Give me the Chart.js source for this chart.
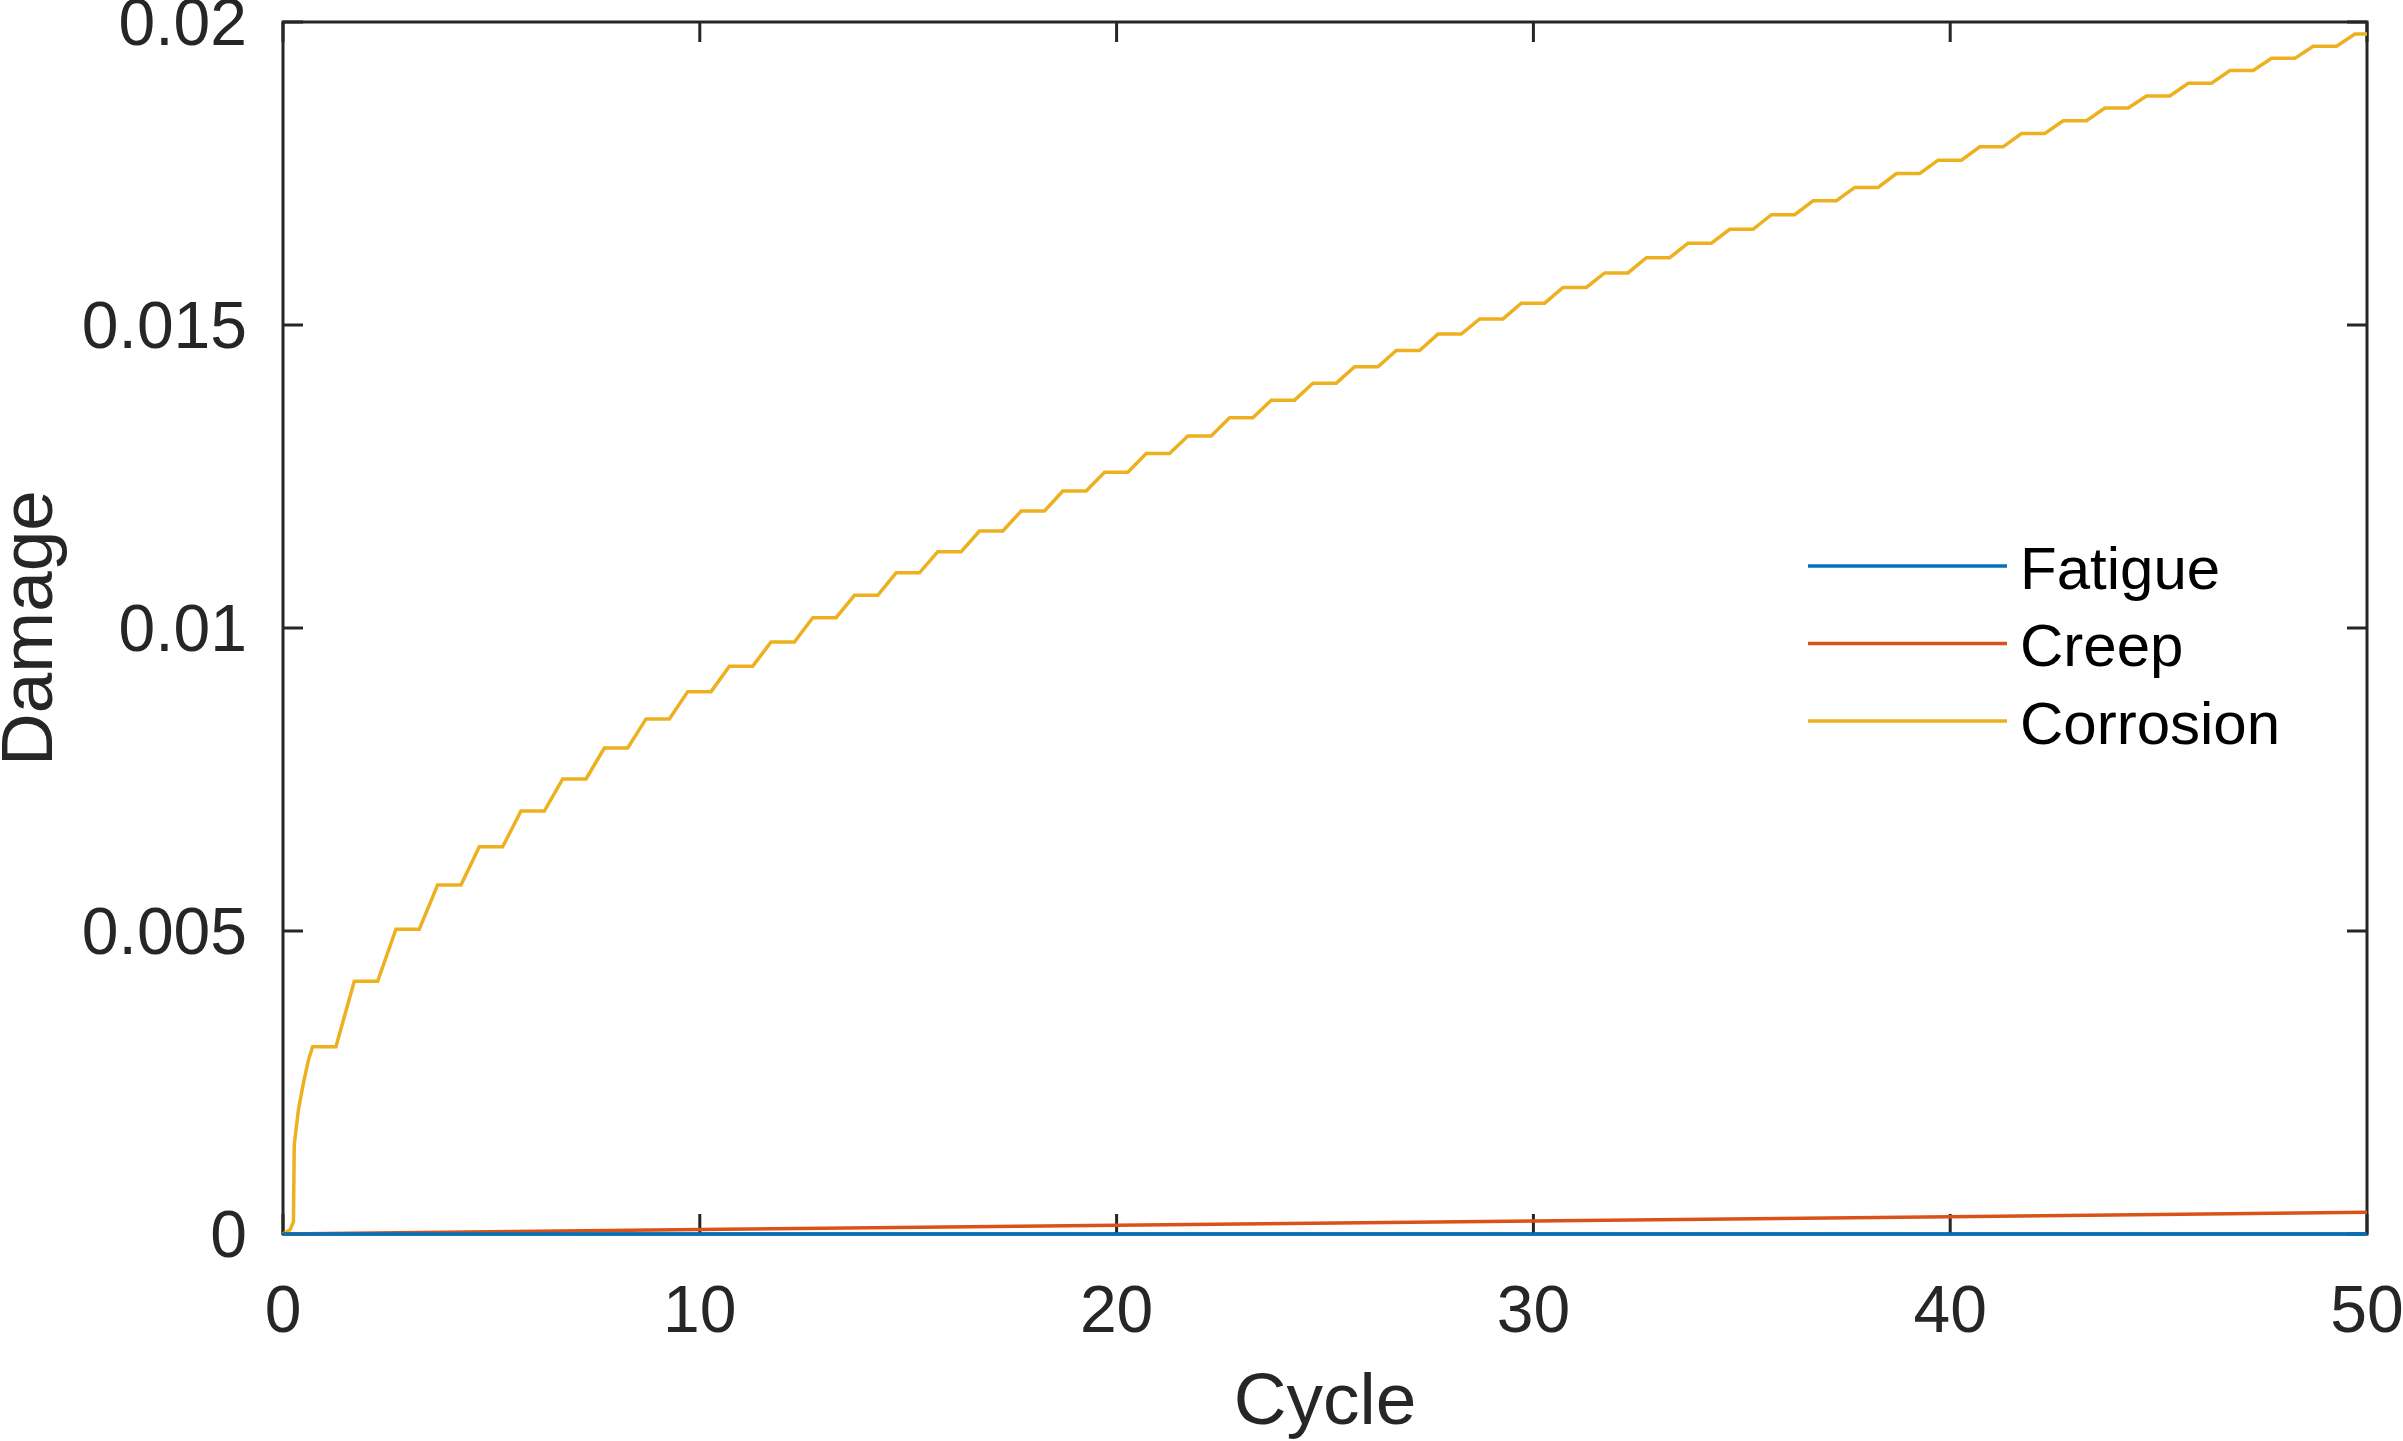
<!DOCTYPE html>
<html>
<head>
<meta charset="utf-8">
<script src="https://cdn.jsdelivr.net/npm/chart.js@4.4.1/dist/chart.umd.min.js"></script>
<style>
  html, body { margin: 0; padding: 0; background: #fff; }
  #chart { display: block; }
</style>
</head>
<body>
<canvas id="chart" width="2403" height="1441" style="width:2403px;height:1441px"></canvas>
<script>
// tick labels
var xTicks = [0, 10, 20, 30, 40, 50];
var yTickLabels = ['0', '0.005', '0.01', '0.015', '0.02'];
var seriesNames = ['Fatigue', 'Creep', 'Corrosion'];
var seriesColors = ['#0072BD', '#D95319', '#EDB120'];

// fatigue stays at zero
var fatigueCycle = [0, 50];
var fatigueDamage = [0, 0];

// creep grows slowly
var creepCycle = [0, 10, 20, 30, 40, 50];
var creepDamage = [0, 0.000075, 0.000145, 0.000215, 0.000285, 0.000358];

// corrosion, first cycle (fast initial rise)
var corrosionStartCycle = [0, 0.17, 0.25, 0.27, 0.37, 0.49, 0.61, 0.71];
var corrosionStartDamage = [0, 0.00007, 0.0002, 0.00147, 0.00205, 0.00249, 0.00287, 0.00309];

// corrosion level held after each cycle 1..50
var corrosionLevel = [
  0.00309, 0.00417, 0.00503, 0.00576, 0.00639, 0.00698, 0.00751, 0.00802, 0.00850, 0.00895,
  0.00937, 0.00977, 0.01017, 0.01054, 0.01091, 0.01126, 0.01160, 0.01193, 0.01226, 0.01257,
  0.01288, 0.01317, 0.01347, 0.01376, 0.01404, 0.01431, 0.01458, 0.01485, 0.01510, 0.01536,
  0.01562, 0.01586, 0.01611, 0.01635, 0.01658, 0.01682, 0.01705, 0.01727, 0.01750, 0.01772,
  0.01794, 0.01816, 0.01837, 0.01858, 0.01878, 0.01899, 0.01920, 0.01940, 0.01960, 0.01980
];
// part of each cycle where corrosion grows
var riseStart = 0.27, riseEnd = 0.71;

function toPoints(xs, ys) {
  return xs.map(function (x, i) { return { x: x, y: ys[i] }; });
}

var corrosionPoints = toPoints(corrosionStartCycle, corrosionStartDamage);
for (var n = 1; n < corrosionLevel.length; n++) {
  corrosionPoints.push({ x: n + riseStart, y: corrosionLevel[n - 1] });
  corrosionPoints.push({ x: n + riseEnd, y: corrosionLevel[n] });
}
corrosionPoints.push({ x: 50, y: corrosionLevel[corrosionLevel.length - 1] });

var FONT = "'Liberation Sans', Arial, Helvetica, sans-serif";
var AXIS_COLOR = '#262626';

// box around the plot with inward ticks (matlab style)
var boxPlugin = {
  id: 'box',
  beforeDatasetsDraw: function (chart) {
    var ctx = chart.ctx, a = chart.chartArea;
    var xs = chart.scales.x, ys = chart.scales.y;
    var tl = 20;
    ctx.save();
    ctx.strokeStyle = AXIS_COLOR;
    ctx.lineWidth = 3;
    ctx.strokeRect(a.left, a.top, a.right - a.left, a.bottom - a.top);
    ctx.beginPath();
    xs.ticks.forEach(function (t) {
      var px = xs.getPixelForValue(t.value);
      ctx.moveTo(px, a.bottom); ctx.lineTo(px, a.bottom - tl);
      ctx.moveTo(px, a.top); ctx.lineTo(px, a.top + tl);
    });
    ys.ticks.forEach(function (t) {
      var py = ys.getPixelForValue(t.value);
      ctx.moveTo(a.left, py); ctx.lineTo(a.left + tl, py);
      ctx.moveTo(a.right, py); ctx.lineTo(a.right - tl, py);
    });
    ctx.stroke();
    ctx.restore();
  }
};

// legend inside the plot, right side
var legendPlugin = {
  id: 'insideLegend',
  afterDraw: function (chart) {
    var ctx = chart.ctx, a = chart.chartArea;
    var x0 = a.right - 559, lineLen = 199;
    var y0 = a.top + 544, gap = 77.5;
    ctx.save();
    ctx.font = '60px ' + FONT;
    ctx.textBaseline = 'middle';
    ctx.textAlign = 'left';
    chart.data.datasets.forEach(function (ds, i) {
      var y = y0 + i * gap;
      ctx.strokeStyle = ds.borderColor;
      ctx.lineWidth = 3.5;
      ctx.beginPath();
      ctx.moveTo(x0, y); ctx.lineTo(x0 + lineLen, y);
      ctx.stroke();
      ctx.fillStyle = '#000';
      ctx.fillText(ds.label, x0 + lineLen + 13, y + 6);
    });
    ctx.restore();
  }
};

var ctx = document.getElementById('chart').getContext('2d');
new Chart(ctx, {
  type: 'line',
  data: {
    datasets: [
      { label: seriesNames[0], data: toPoints(fatigueCycle, fatigueDamage), borderColor: seriesColors[0] },
      { label: seriesNames[1], data: toPoints(creepCycle, creepDamage), borderColor: seriesColors[1] },
      { label: seriesNames[2], data: corrosionPoints, borderColor: seriesColors[2] }
    ]
  },
  options: {
    responsive: false,
    devicePixelRatio: 1,
    animation: false,
    events: [],
    layout: { padding: { left: 0, right: 36, top: 22, bottom: 0 } },
    elements: {
      line: { borderWidth: 3.5, tension: 0, fill: false },
      point: { radius: 0 }
    },
    datasets: { line: { clip: false } },
    plugins: {
      legend: { display: false },
      tooltip: { enabled: false }
    },
    scales: {
      x: {
        type: 'linear',
        min: 0,
        max: 50,
        afterBuildTicks: function (scale) {
          scale.ticks = xTicks.map(function (v) { return { value: v }; });
        },
        afterFit: function (scale) {
          scale.height = 207;
          scale.paddingLeft = 0; scale.paddingRight = 0;
        },
        grid: { display: false },
        border: { display: false },
        ticks: {
          font: { family: FONT, size: 66 },
          color: AXIS_COLOR,
          padding: 32,
          maxRotation: 0,
          autoSkip: false
        },
        title: {
          display: true,
          text: 'Cycle',
          font: { family: FONT, size: 73, lineHeight: 1 },
          color: AXIS_COLOR,
          padding: { top: 0, bottom: 1 }
        }
      },
      y: {
        min: 0,
        max: 0.02,
        ticks: {
          stepSize: 0.005,
          font: { family: FONT, size: 66 },
          color: AXIS_COLOR,
          padding: 28,
          labelOffset: 5,
          callback: function (v, i) { return yTickLabels[i]; }
        },
        afterFit: function (scale) {
          scale.width = 283;
          scale.paddingTop = 0; scale.paddingBottom = 0;
        },
        grid: { display: false },
        border: { display: false },
        title: {
          display: true,
          text: 'Damage',
          font: { family: FONT, size: 73, lineHeight: 1 },
          color: AXIS_COLOR,
          padding: { top: -5, bottom: 0 }
        }
      }
    }
  },
  plugins: [boxPlugin, legendPlugin]
});
</script>
</body>
</html>
